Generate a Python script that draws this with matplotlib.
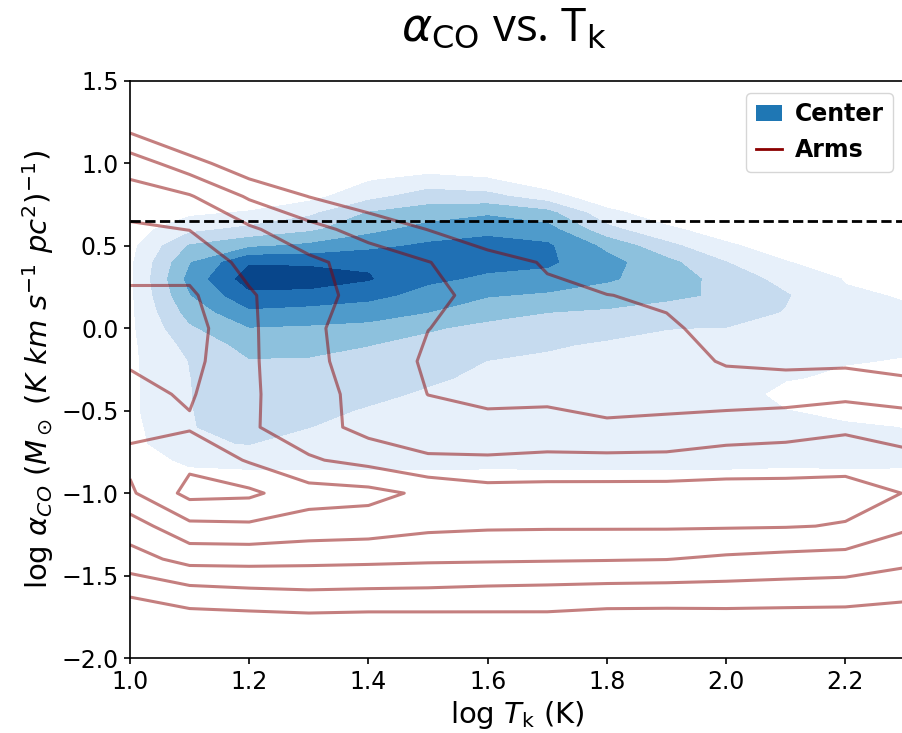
import numpy as np
import matplotlib
matplotlib.use("Agg")
import matplotlib.pyplot as plt
from matplotlib.lines import Line2D
from matplotlib.patches import Patch

# Сітка log T_k, на якій прочитані обидві густини.
log_tk_grid = [1.0, 1.1, 1.2, 1.3, 1.4, 1.5, 1.6, 1.7, 1.8, 1.9, 2.0, 2.1, 2.2, 2.3]

# Сітка log alpha_CO для центру (крок 0.1) і для рукавів (крок 0.2).
center_alpha_grid = [-1.0, -0.9, -0.8, -0.7, -0.6, -0.5, -0.4, -0.3, -0.2, -0.1, 0.0,
                     0.1, 0.2, 0.3, 0.4, 0.5, 0.6, 0.7, 0.8, 0.9, 1.0, 1.1]
arms_alpha_grid = [-2.0, -1.8, -1.6, -1.4, -1.2, -1.0, -0.8, -0.6, -0.4, -0.2, 0.0,
                   0.2, 0.4, 0.6, 0.8, 1.0, 1.2, 1.4, 1.6]

# Рівень густини центру: один рядок на кожне значення log T_k.
center_density = [
    [0, 0, 0.3, 0.6, 0.7, 0.8, 0.8, 0.8, 0.8, 0.8, 0.8, 0.8, 0.8, 0.8, 0.8, 0.7, 0.5, 0, 0, 0, 0, 0],
    [0, 0.6, 1.27, 1.93, 1.97, 1.97, 1.97, 1.98, 2.02, 2.3, 2.83, 3.39, 3.94, 4.3, 3.92, 3.08, 1.73, 0.8, 0, 0, 0, 0],
    [0, 0.7, 1.37, 2.02, 2.2, 2.38, 2.56, 2.74, 2.93, 3.35, 3.94, 4.82, 5.76, 6.5, 5.9, 3.8, 2.25, 1.11, 0.2, 0, 0, 0],
    [0, 0.82, 1.22, 1.61, 2.01, 2.22, 2.45, 2.67, 2.9, 3.3, 3.84, 4.67, 5.59, 6.6, 5.8, 4.2, 2.8, 1.78, 0.67, 0, 0, 0],
    [0.3, 0.88, 1.14, 1.4, 1.66, 1.92, 2.19, 2.46, 2.73, 3.02, 3.67, 4.5, 5.27, 6.08, 5.85, 4.71, 3.69, 3.06, 1.67, 0.93, 0.2, 0],
    [0.3, 0.91, 1.11, 1.3, 1.5, 1.7, 1.89, 2.13, 2.43, 2.73, 3.09, 4.02, 4.67, 5.17, 5.45, 5.17, 4.37, 3.48, 2.5, 1.36, 0.3, 0],
    [0.4, 0.93, 1.08, 1.23, 1.38, 1.53, 1.68, 1.83, 1.98, 2.36, 2.76, 3.31, 4.08, 4.85, 5.25, 5.2, 4.85, 3.82, 2.32, 1.11, 0.2, 0],
    [0.5, 0.94, 1.07, 1.21, 1.34, 1.48, 1.61, 1.75, 1.89, 2.07, 2.53, 3.02, 3.83, 4.67, 5.15, 5.15, 4.4, 3.33, 1.43, 0.3, 0, 0],
    [0.5, 0.95, 1.07, 1.19, 1.31, 1.43, 1.56, 1.68, 1.8, 1.92, 2.2, 2.87, 3.53, 4.12, 4.35, 3.75, 2.3, 1.3, 0.3, 0, 0, 0],
    [0.5, 0.95, 1.06, 1.18, 1.3, 1.42, 1.53, 1.65, 1.77, 1.88, 2.01, 2.62, 3.2, 3.55, 3.3, 2.29, 1.2, 0.4, 0, 0, 0, 0],
    [0.5, 0.95, 1.06, 1.17, 1.28, 1.3, 1.35, 1.4, 1.73, 1.85, 1.97, 2.45, 2.85, 2.6, 2.02, 1.17, 0.5, 0, 0, 0, 0, 0],
    [0.5, 0.9, 1.08, 1.15, 1.12, 1.01, 0.8, 1.05, 1.3, 1.55, 1.75, 1.95, 2.08, 1.65, 1.05, 0.5, 0, 0, 0, 0, 0, 0],
    [0.5, 0.9, 1.1, 1.12, 1.05, 0.9, 0.8, 0.9, 1.03, 1.15, 1.2, 1.18, 1.1, 0.95, 0.5, 0, 0, 0, 0, 0, 0, 0],
    [0.5, 0.92, 1.07, 1.08, 0.99, 0.85, 0.75, 0.85, 0.97, 1.08, 1.12, 1.08, 0.95, 0.5, 0, 0, 0, 0, 0, 0, 0, 0],
]

# Рівень густини рукавів: один рядок на кожне значення log T_k.
arms_density = [
    [-0.5, -0.17, 1.21, 2.61, 3.51, 4.85, 5.2, 4.8, 4.77, 5.08, 5.3, 5.11, 4.74, 4.16, 3.49, 2.54, 0.87, -0.87, -1.0],
    [-0.5, 0.33, 1.67, 3.32, 4.76, 6.3, 5.78, 4.9, 5.1, 5.3, 5.4, 5.15, 4.65, 3.98, 3.09, 1.45, -0.36, -1.0, -1.0],
    [-0.5, 0.39, 1.82, 3.33, 4.83, 6.2, 4.9, 4.12, 4.15, 4.15, 4.15, 4.1, 3.72, 3.16, 1.87, 0.23, -1.0, -1.0, -1.0],
    [-0.5, 0.48, 1.91, 3.27, 4.59, 5.4, 4.11, 3.46, 3.39, 3.25, 3.18, 3.3, 3.2, 2.35, 0.98, -1.0, -1.0, -1.0, -1.0],
    [-0.5, 0.43, 1.86, 3.22, 4.5, 5.3, 3.69, 2.65, 2.65, 2.53, 2.55, 2.7, 2.6, 1.59, 0.41, -0.5, -1.0, -1.0, -1.0],
    [-0.5, 0.45, 1.83, 3.15, 4.21, 4.8, 3.15, 2.4, 1.99, 1.88, 2.01, 2.17, 2.03, 0.98, -0.05, -0.8, -1.0, -1.0, -1.0],
    [-0.5, 0.5, 1.75, 3.12, 4.12, 4.4, 3.14, 2.25, 1.8, 1.74, 1.77, 1.79, 1.45, 0.25, -0.6, -1.0, -1.0, -1.0, -1.0],
    [-0.5, 0.53, 1.7, 3.09, 4.1, 4.4, 3.25, 2.26, 1.84, 1.63, 1.41, 1.19, 0.9, -0.2, -1.0, -1.0, -1.0, -1.0, -1.0],
    [-0.5, 0.38, 1.63, 3.06, 4.1, 4.4, 3.26, 2.09, 1.77, 1.52, 1.27, 1.02, 0.3, -0.5, -1.0, -1.0, -1.0, -1.0, -1.0],
    [-0.5, 0.38, 1.6, 3.02, 4.1, 4.4, 3.28, 2.17, 1.74, 1.44, 1.14, 0.84, 0.2, -0.5, -1.0, -1.0, -1.0, -1.0, -1.0],
    [-0.5, 0.41, 1.59, 2.84, 4.08, 4.4, 3.47, 2.43, 1.58, 0.9, 0.67, 0.2, -0.6, -1.0, -1.0, -1.0, -1.0, -1.0, -1.0],
    [-0.5, 0.4, 1.54, 2.71, 4.05, 4.4, 3.51, 2.57, 1.61, 0.78, 0.0, -0.5, -1.0, -1.0, -1.0, -1.0, -1.0, -1.0, -1.0],
    [-0.5, 0.39, 1.5, 2.61, 3.95, 4.3, 3.71, 2.79, 1.77, 0.8, 0.0, -0.5, -1.0, -1.0, -1.0, -1.0, -1.0, -1.0, -1.0],
    [-0.5, 0.3, 1.29, 2.25, 3.15, 3.98, 3.29, 2.52, 1.61, 0.5, -0.2, -0.5, -1.0, -1.0, -1.0, -1.0, -1.0, -1.0, -1.0],
]

center_levels = [1, 2, 3, 4, 5, 6, 7]
arms_levels = [1, 2, 3, 4, 5, 6]

# Значення alpha_CO Чумацького Шляху (штрихова лінія).
milky_way_log_alpha = 0.65


def main() -> None:
    fig = plt.figure(figsize=(9.03, 7.33), dpi=100)
    ax = fig.add_axes([130 / 903, 75 / 733, 775 / 903, 577 / 733])

    # Заповнені контури для центру, лінії для рукавів.
    ax.contourf(log_tk_grid, center_alpha_grid, np.array(center_density).T,
                levels=center_levels, cmap="Blues")
    ax.contour(log_tk_grid, arms_alpha_grid, np.array(arms_density).T,
               levels=arms_levels, colors="darkred", alpha=0.5, linewidths=2.2)
    ax.axhline(milky_way_log_alpha, color="black", linestyle="--", linewidth=2)

    ax.set_xlim(1.0, 2.3)
    ax.set_ylim(-2.0, 1.5)
    ax.set_xticks([1.0, 1.2, 1.4, 1.6, 1.8, 2.0, 2.2])
    ax.tick_params(labelsize=17, length=4.3, width=1.2, pad=4)
    for spine in ax.spines.values():
        spine.set_linewidth(1.2)
    ax.set_xlabel(r"log $T_{\rm k}$ (K)", fontsize=21)
    ax.set_ylabel(r"log $\alpha_{CO}$ ($M_\odot$ $(K\ km\ s^{-1}\ pc^2)^{-1}$)", fontsize=21)
    ax.set_title(r"$\alpha_{\rm CO}$ vs. T$_{\rm k}$", fontsize=33,
                 family="Open Sans", pad=29, x=0.482)

    handles = [Patch(facecolor="tab:blue"), Line2D([], [], color="darkred", linewidth=2)]
    ax.legend(handles, ["Center", "Arms"], loc="upper right",
              prop={"weight": "bold", "size": 17}, handlelength=1.1, handletextpad=0.55)

    fig.savefig("out.png", dpi=100)


if __name__ == "__main__":
    main()
